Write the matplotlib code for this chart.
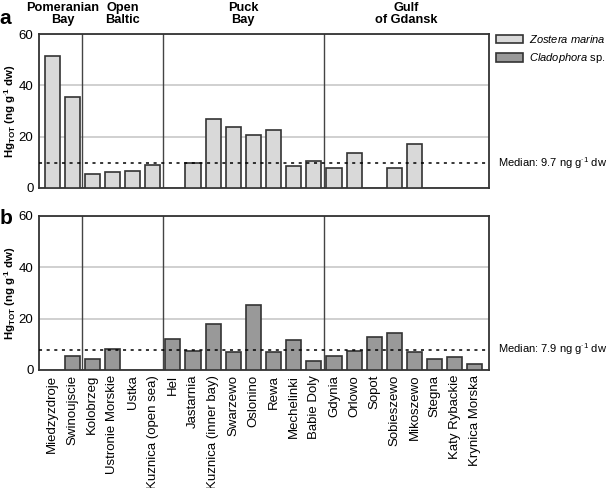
import numpy as np
import matplotlib.pyplot as plt
from matplotlib.patches import Patch

plt.rcParams["font.family"] = ["Liberation Sans", "DejaVu Sans"]
plt.rcParams["mathtext.fontset"] = "custom"
plt.rcParams["mathtext.rm"] = "Liberation Sans"
plt.rcParams["mathtext.it"] = "Liberation Sans:italic"
plt.rcParams["mathtext.bf"] = "Liberation Sans:bold"

# ======================================================
# DATA
# ======================================================
sites = ["Miedzyzdroje", "Swinoujscie", "Kolobrzeg", "Ustronie Morskie", "Ustka",
         "Kuznica (open sea)", "Hel", "Jastarnia", "Kuznica (inner bay)", "Swarzewo",
         "Oslonino", "Rewa", "Mechelinki", "Babie Doly", "Gdynia", "Orlowo", "Sopot",
         "Sobieszewo", "Mikoszewo", "Stegna", "Katy Rybackie", "Krynica Morska"]

# Zostera marina, Hg_TOT (ng/g dw); nan = not sampled
zostera = [51.4, 35.3, 5.4, 6.2, 6.5, 8.9, np.nan, 9.9, 26.9, 23.8, 20.8,
           22.6, 8.7, 10.5, 7.8, 13.5, np.nan, 7.8, 17.1, np.nan, np.nan, np.nan]

# Cladophora sp.
cladophora = [np.nan, 5.4, 4.1, 8.3, np.nan, np.nan, 12.0, 7.5, 17.9, 6.9, 25.1,
              7.1, 11.7, 3.4, 5.5, 7.5, 12.7, 14.3, 6.8, 4.2, 5.2, 2.3]

median_zostera = 9.7
median_cladophora = 7.9

regions = ["Pomeranian\nBay", "Open\nBaltic", "Puck\nBay", "Gulf\nof Gdansk"]
region_bounds = [(-0.65, 1.5), (1.5, 5.5), (5.5, 13.5), (13.5, 21.7)]

# ======================================================
# STYLE
# ======================================================
col_zostera = "#d9d9d9"
col_cladophora = "#999999"
edge = "#333333"
fs = 9.5
small = 8

fig = plt.figure(figsize=(6.09, 4.88), dpi=100)
ax_a = fig.add_axes([0.064, 0.615, 0.739, 0.315])
ax_b = fig.add_axes([0.064, 0.242, 0.739, 0.316])

x = np.arange(len(sites))


def draw_panel(ax, values, color, median, letter, letter_y):
    vals = np.array(values, dtype=float)
    ok = ~np.isnan(vals)
    ax.bar(x[ok], vals[ok], width=0.75, color=color, edgecolor=edge,
           linewidth=1.2, zorder=3)
    ax.set_xlim(-0.65, 21.7)
    ax.set_ylim(0, 60)
    ax.set_yticks([0, 20, 40, 60])
    ax.yaxis.grid(True, color="#c8c8c8", linewidth=1.2, zorder=0)
    ax.tick_params(axis="y", length=0, pad=4, labelsize=9.5)
    ax.tick_params(axis="x", length=0)
    for s in ax.spines.values():
        s.set_color("#333333")
        s.set_linewidth(1.3)
    for lo, hi in region_bounds[1:]:
        ax.axvline(lo, color="#444444", linewidth=1.0, zorder=2)
    ax.axhline(median, color="black", linestyle=(0, (2, 3)), linewidth=1.1, zorder=4)
    ax.text(1.02, median, "Median: %.1f ng g$^{\\cdot1}$ dw" % median,
            transform=ax.get_yaxis_transform(), va="center", ha="left", fontsize=small)
    ax.set_ylabel(r"Hg$_{\mathbf{TOT}}$ (ng g$^{\mathbf{\cdot 1}}$ dw)",
                  fontsize=8.2, fontweight="bold")
    ax.yaxis.set_label_coords(-0.046, 0.5)
    ax.text(-0.087, letter_y, letter, transform=ax.transAxes, fontsize=15,
            fontweight="bold", ha="left", va="center")


draw_panel(ax_a, zostera, col_zostera, median_zostera, "a", 1.1)
draw_panel(ax_b, cladophora, col_cladophora, median_cladophora, "b", 0.98)

ax_a.set_xticks([])
ax_b.set_xticks(x)
ax_b.set_xticklabels(sites, rotation=90, fontsize=fs)

# region headers
for name, (lo, hi) in zip(regions, region_bounds):
    ax_a.text((lo + hi) / 2 + (0.1 if lo < 0 else 0), 1.055, name,
              transform=ax_a.get_xaxis_transform(), ha="center", va="bottom",
              fontsize=9.2, fontweight="bold", linespacing=1.0)

# legend
handles = [Patch(facecolor=col_zostera, edgecolor=edge, linewidth=1.2),
           Patch(facecolor=col_cladophora, edgecolor=edge, linewidth=1.2)]
labels = [r"$\it{Zostera\ marina}$", r"$\it{Cladophora}$ sp."]
ax_a.legend(handles, labels, loc="upper left", bbox_to_anchor=(1.016, 1.01),
            frameon=False, fontsize=small, handlelength=2.4, handleheight=0.8,
            handletextpad=0.55, labelspacing=0.6, borderaxespad=0, borderpad=0)

fig.savefig("out.png", dpi=100)
